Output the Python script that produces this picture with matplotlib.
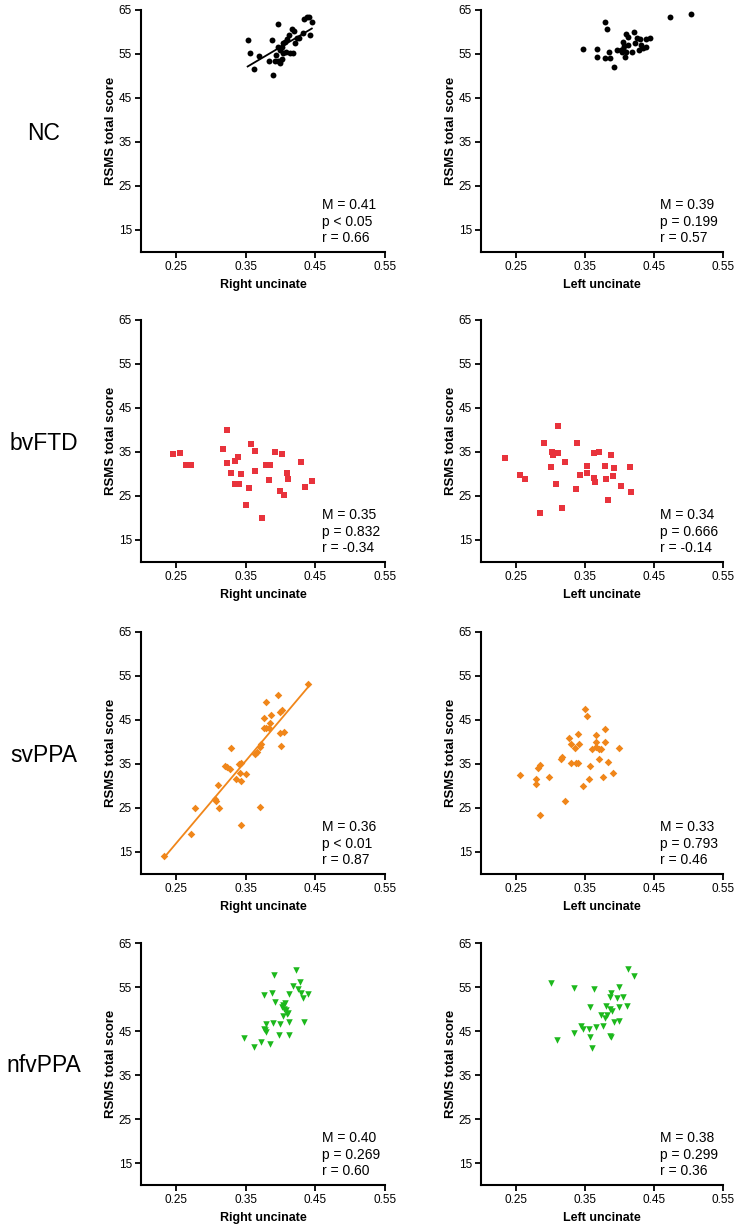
import numpy as np
import matplotlib
matplotlib.use("Agg")
import matplotlib.pyplot as plt

plt.rcParams['font.family'] = ['Liberation Sans', 'DejaVu Sans']

groups = ["NC", "bvFTD", "svPPA", "nfvPPA"]
colors = ["#000000", "#e8333c", "#f0861a", "#1cb81c"]
markers = ["o", "s", "D", "v"]

# NC
nc_right_x = [0.353, 0.357, 0.362, 0.369, 0.383, 0.388, 0.396, 0.390, 0.397, 0.400, 0.402, 0.394,
              0.400, 0.402, 0.404, 0.407, 0.409, 0.412, 0.404, 0.408, 0.414, 0.418, 0.416, 0.420,
              0.421, 0.424, 0.427, 0.432, 0.434, 0.438, 0.441, 0.443, 0.445, 0.397, 0.392, 0.399]
nc_right_y = [58.2, 55.3, 51.5, 54.6, 53.5, 58.2, 61.8, 50.3, 53.5, 53.5, 53.8, 54.8,
              55.9, 56.7, 57.4, 57.8, 58.3, 59.3, 55.2, 55.5, 55.3, 55.3, 60.6, 60.3,
              57.4, 58.6, 58.6, 59.7, 62.9, 63.3, 63.3, 59.3, 62.3, 56.7, 53.3, 53.0]
nc_left_x = [0.348, 0.368, 0.368, 0.379, 0.380, 0.382, 0.385, 0.387, 0.392, 0.396, 0.402, 0.405,
             0.407, 0.408, 0.410, 0.413, 0.412, 0.410, 0.419, 0.421, 0.423, 0.425, 0.428, 0.430,
             0.431, 0.435, 0.438, 0.438, 0.445, 0.404, 0.406, 0.473, 0.504]
nc_left_y = [56.2, 56.1, 54.4, 54.2, 62.2, 60.7, 55.4, 54.0, 52.0, 55.8, 55.9, 57.8,
             56.8, 54.4, 59.5, 58.9, 57.0, 55.5, 55.5, 59.9, 57.4, 58.6, 55.9, 58.3,
             57.0, 56.3, 56.7, 58.3, 58.7, 55.5, 56.1, 63.3, 64.2]

# bvFTD
bv_right_x = [0.246, 0.256, 0.264, 0.272, 0.317, 0.323, 0.324, 0.329, 0.335, 0.339, 0.335, 0.341,
              0.344, 0.355, 0.351, 0.358, 0.363, 0.364, 0.373, 0.380, 0.385, 0.384, 0.392, 0.402,
              0.399, 0.405, 0.409, 0.411, 0.430, 0.435, 0.445]
bv_right_y = [34.5, 34.7, 32.0, 32.0, 35.7, 40.0, 32.4, 30.2, 33.0, 33.9, 27.7, 27.7,
              30.1, 26.9, 22.9, 36.9, 35.2, 30.6, 20.1, 32.0, 32.0, 28.6, 34.9, 34.5,
              26.1, 25.2, 30.3, 28.8, 32.8, 27.1, 28.3]
bv_left_x = [0.235, 0.256, 0.263, 0.286, 0.291, 0.301, 0.303, 0.304, 0.308, 0.311, 0.311, 0.317,
             0.322, 0.338, 0.339, 0.343, 0.353, 0.353, 0.364, 0.364, 0.365, 0.370, 0.379, 0.381,
             0.383, 0.388, 0.391, 0.392, 0.403, 0.415, 0.417]
bv_left_y = [33.7, 29.7, 28.8, 21.1, 37.1, 31.5, 35.1, 34.4, 27.8, 40.9, 34.7, 22.2,
             32.7, 26.5, 37.0, 29.7, 31.8, 30.3, 34.7, 29.2, 28.2, 34.9, 31.8, 28.8,
             24.2, 34.4, 29.6, 31.3, 27.3, 31.7, 25.9]

# svPPA
sv_right_x = [0.233, 0.272, 0.278, 0.306, 0.308, 0.310, 0.312, 0.320, 0.324, 0.328, 0.329, 0.336,
              0.341, 0.344, 0.342, 0.344, 0.351, 0.344, 0.363, 0.366, 0.370, 0.371, 0.372, 0.377,
              0.377, 0.380, 0.380, 0.385, 0.386, 0.384, 0.396, 0.399, 0.400, 0.402, 0.401, 0.405,
              0.439]
sv_right_y = [14.2, 19.1, 24.9, 27.1, 26.6, 30.3, 24.9, 34.6, 34.3, 33.8, 38.6, 31.7,
              34.9, 35.2, 32.9, 31.2, 32.8, 21.2, 37.3, 37.8, 25.3, 38.8, 39.5, 43.1,
              45.4, 49.1, 43.1, 44.4, 46.1, 43.1, 50.6, 42.1, 46.9, 47.3, 39.2, 42.3,
              53.1]
sv_left_x = [0.257, 0.280, 0.279, 0.283, 0.286, 0.286, 0.299, 0.315, 0.317, 0.322, 0.327, 0.330,
             0.330, 0.336, 0.338, 0.341, 0.342, 0.341, 0.347, 0.351, 0.354, 0.356, 0.357, 0.361,
             0.366, 0.367, 0.367, 0.371, 0.370, 0.374, 0.377, 0.379, 0.380, 0.383, 0.391, 0.399]
sv_left_y = [32.4, 31.7, 30.5, 34.0, 34.8, 23.4, 32.1, 36.1, 36.6, 26.5, 41.0, 39.5,
             35.2, 38.6, 35.3, 41.9, 39.5, 35.3, 30.0, 47.4, 45.8, 31.6, 34.5, 38.5,
             41.6, 40.1, 38.9, 38.3, 36.1, 38.3, 32.1, 40.0, 43.0, 35.5, 32.9, 38.7]

# nfvPPA
nf_right_x = [0.348, 0.362, 0.372, 0.376, 0.378, 0.379, 0.380, 0.385, 0.377, 0.388, 0.391, 0.392,
              0.390, 0.398, 0.400, 0.402, 0.404, 0.403, 0.407, 0.405, 0.409, 0.408, 0.411, 0.412,
              0.412, 0.413, 0.418, 0.423, 0.425, 0.428, 0.429, 0.432, 0.434, 0.440]
nf_right_y = [43.4, 41.3, 42.5, 45.5, 45.2, 46.6, 44.8, 42.0, 53.1, 53.6, 57.7, 51.6,
              46.9, 44.1, 46.7, 50.5, 51.0, 48.4, 51.3, 50.0, 48.9, 49.8, 49.2, 47.1,
              44.1, 53.4, 55.2, 58.9, 54.5, 56.2, 53.6, 52.4, 47.0, 53.3]
nf_left_x = [0.301, 0.310, 0.334, 0.335, 0.345, 0.347, 0.356, 0.358, 0.361, 0.357, 0.363, 0.367,
             0.374, 0.376, 0.380, 0.381, 0.382, 0.386, 0.389, 0.386, 0.388, 0.387, 0.388, 0.392,
             0.396, 0.400, 0.400, 0.400, 0.406, 0.411, 0.413, 0.421]
nf_left_y = [55.8, 43.0, 44.5, 54.8, 46.2, 45.5, 45.4, 43.6, 41.1, 50.5, 54.6, 45.9,
             48.6, 46.2, 48.0, 50.6, 48.6, 50.1, 49.5, 52.8, 53.6, 43.9, 43.6, 47.1,
             52.4, 55.0, 50.5, 47.2, 52.7, 50.6, 59.2, 57.6]

right_data = [(nc_right_x, nc_right_y), (bv_right_x, bv_right_y), (sv_right_x, sv_right_y), (nf_right_x, nf_right_y)]
left_data = [(nc_left_x, nc_left_y), (bv_left_x, bv_left_y), (sv_left_x, sv_left_y), (nf_left_x, nf_left_y)]

right_stats = [("0.41", "< 0.05", "0.66"), ("0.35", "= 0.832", "-0.34"), ("0.36", "< 0.01", "0.87"), ("0.40", "= 0.269", "0.60")]
left_stats = [("0.39", "= 0.199", "0.57"), ("0.34", "= 0.666", "-0.14"), ("0.33", "= 0.793", "0.46"), ("0.38", "= 0.299", "0.36")]
# which panels show a regression line
right_fit = [True, False, True, False]
left_fit = [False, False, False, False]

xticks = [0.25, 0.35, 0.45, 0.55]
yticks = [15, 25, 35, 45, 55, 65]

W, H = 738, 1228
fig = plt.figure(figsize=(W / 100, H / 100), dpi=100)

col_left = [141, 481]
col_w = [244, 242]
row_top = [10, 320, 632, 943]
ax_h = 242
marker_size = {"o": 18, "s": 16, "D": 15, "v": 22}


def draw_panel(ax, xs, ys, color, marker, stats, fit, xlabel):
    ax.scatter(xs, ys, s=marker_size[marker], marker=marker, color=color, linewidths=0, zorder=3)
    if fit:
        k, b = np.polyfit(xs, ys, 1)
        fx = np.array([min(xs), max(xs)])
        ax.plot(fx, k * fx + b, color=color, lw=1.3, zorder=2)
    ax.set_xlim(0.2, 0.55)
    ax.set_ylim(10, 65)
    ax.set_xticks(xticks)
    ax.set_xticklabels([f"{t:.2f}" for t in xticks])
    ax.set_yticks(yticks)
    ax.spines[['top', 'right']].set_visible(False)
    for s in ['left', 'bottom']:
        ax.spines[s].set_linewidth(1.5)
    ax.tick_params(width=1.3, length=4, labelsize=8.5, pad=2.5)
    ax.set_xlabel(xlabel, fontsize=9, fontweight='bold', labelpad=4)
    ax.set_ylabel("RSMS total score", fontsize=9.5, fontweight='bold', labelpad=1.5)
    ax.text(0.74, 0.03, f"M = {stats[0]}\np {stats[1]}\nr = {stats[2]}",
            transform=ax.transAxes, fontsize=10, ha='left', va='bottom', linespacing=1.2)


for i, g in enumerate(groups):
    bottom = 1 - (row_top[i] + ax_h) / H
    axr = fig.add_axes([col_left[0] / W, bottom, col_w[0] / W, ax_h / H])
    draw_panel(axr, right_data[i][0], right_data[i][1], colors[i], markers[i],
               right_stats[i], right_fit[i], "Right uncinate")
    axl = fig.add_axes([col_left[1] / W, bottom, col_w[1] / W, ax_h / H])
    draw_panel(axl, left_data[i][0], left_data[i][1], colors[i], markers[i],
               left_stats[i], left_fit[i], "Left uncinate")
    fig.text(44 / W, 1 - (row_top[i] + 123) / H, g, fontsize=16.5, ha='center', va='center')

fig.savefig("out.png", dpi=100)
